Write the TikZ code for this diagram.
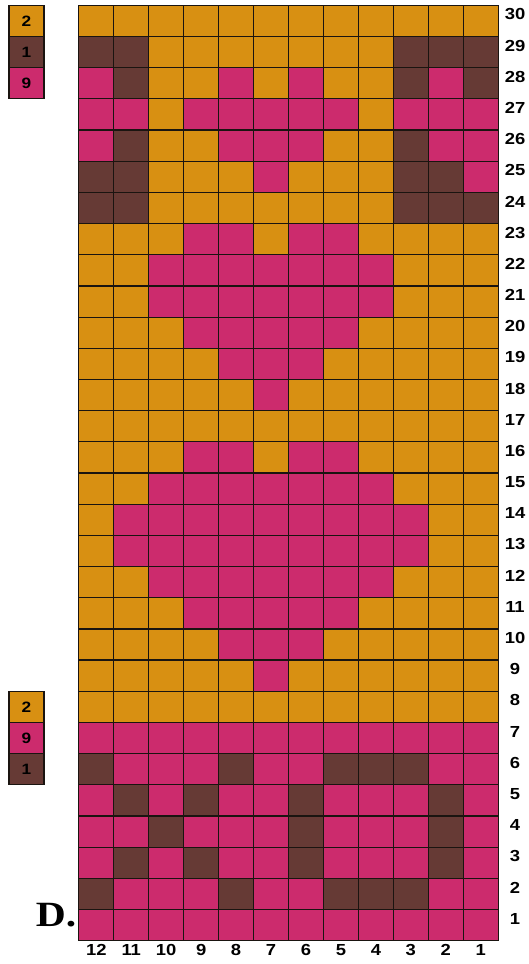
\documentclass[tikz,border=0pt]{standalone}
\usepackage{fontspec}
\setmainfont{Liberation Sans}
\newfontfamily\dfont{Liberation Serif}
\definecolor{orng}{HTML}{D89012}
\definecolor{pnk}{HTML}{CC2B6D}
\definecolor{brn}{HTML}{663A35}
\definecolor{gline}{HTML}{1A1410}
\newcount\colidx
\def\xo{78.8}\def\cw{34.95}\def\yo{5.3}\def\rh{31.18}
\def\drawrow#1#2{\colidx=0 \def\rowno{#1}\drawcellsA#2\relax}
\def\drawcellsA#1{\ifx#1\relax\else\drawcell#1\advance\colidx by 1 \expandafter\drawcellsA\fi}
\def\drawcell#1{\path[cell#1] ({\xo+\the\colidx*\cw},{\yo+(30-\rowno)*\rh}) rectangle ++(\cw,\rh);}
\tikzset{
  cellO/.style={fill=orng,draw=gline,line width=1.2pt},
  cellP/.style={fill=pnk,draw=gline,line width=1.2pt},
  cellB/.style={fill=brn,draw=gline,line width=1.2pt},
  legbox/.style={draw=gline,line width=1.2pt,minimum width=35pt,minimum height=31.18pt,inner sep=0pt},
  legtxt/.style={inner sep=0pt,xscale=1.15,font=\fontsize{15}{18}\selectfont\bfseries},
  rowlab/.style={inner sep=0pt,xscale=1.15,font=\fontsize{16}{19}\selectfont\bfseries},
  collab/.style={inner sep=0pt,xscale=1.15,font=\fontsize{16}{19}\selectfont\bfseries},
}
\begin{document}
\begin{tikzpicture}[x=1pt,y=-1pt]
\useasboundingbox (0,0) rectangle (529,964);
\fill[white] (0,0) rectangle (529,964);
\drawrow{30}{OOOOOOOOOOOO}
\drawrow{29}{BBOOOOOOOBBB}
\drawrow{28}{PBOOPOPOOBPB}
\drawrow{27}{PPOPPPPPOPPP}
\drawrow{26}{PBOOPPPOOBPP}
\drawrow{25}{BBOOOPOOOBBP}
\drawrow{24}{BBOOOOOOOBBB}
\drawrow{23}{OOOPPOPPOOOO}
\drawrow{22}{OOPPPPPPPOOO}
\drawrow{21}{OOPPPPPPPOOO}
\drawrow{20}{OOOPPPPPOOOO}
\drawrow{19}{OOOOPPPOOOOO}
\drawrow{18}{OOOOOPOOOOOO}
\drawrow{17}{OOOOOOOOOOOO}
\drawrow{16}{OOOPPOPPOOOO}
\drawrow{15}{OOPPPPPPPOOO}
\drawrow{14}{OPPPPPPPPPOO}
\drawrow{13}{OPPPPPPPPPOO}
\drawrow{12}{OOPPPPPPPOOO}
\drawrow{11}{OOOPPPPPOOOO}
\drawrow{10}{OOOOPPPOOOOO}
\drawrow{9}{OOOOOPOOOOOO}
\drawrow{8}{OOOOOOOOOOOO}
\drawrow{7}{PPPPPPPPPPPP}
\drawrow{6}{BPPPBPPBBBPP}
\drawrow{5}{PBPBPPBPPPBP}
\drawrow{4}{PPBPPPBPPPBP}
\drawrow{3}{PBPBPPBPPPBP}
\drawrow{2}{BPPPBPPBBBPP}
\drawrow{1}{PPPPPPPPPPPP}
% legends
\node[legbox,fill=orng] (la) at (26.5,{\yo+0.5*\rh}) {};
\node[legbox,fill=brn] (lb) at (26.5,{\yo+1.5*\rh}) {};
\node[legbox,fill=pnk] (lc) at (26.5,{\yo+2.5*\rh}) {};
\node[legbox,fill=orng] (ld) at (26.5,{\yo+22.5*\rh}) {};
\node[legbox,fill=pnk] (le) at (26.5,{\yo+23.5*\rh}) {};
\node[legbox,fill=brn] (lf) at (26.5,{\yo+24.5*\rh}) {};
\node[legtxt] (ta) at (la) {2};
\node[legtxt] (tb) at (lb) {1};
\node[legtxt] (tc) at (lc) {9};
\node[legtxt] (td) at (ld) {2};
\node[legtxt] (te) at (le) {9};
\node[legtxt] (tf) at (lf) {1};
% row labels
\foreach \r in {1,...,30}
  \node[rowlab] (r\r) at (515,{\yo+(30-\r)*\rh+0.5*\rh-6.5}) {\r};
% column labels
\foreach \c in {1,...,12}
  \node[collab] (c\c) at ({\xo+(12-\c)*\cw+0.5*\cw},950) {\c};
% D label
\node[inner sep=0pt,anchor=base,xscale=1.17,font=\dfont\fontsize{35.5}{38}\selectfont\bfseries] (dlab) at (56,926) {D.};
\end{tikzpicture}
\end{document}
